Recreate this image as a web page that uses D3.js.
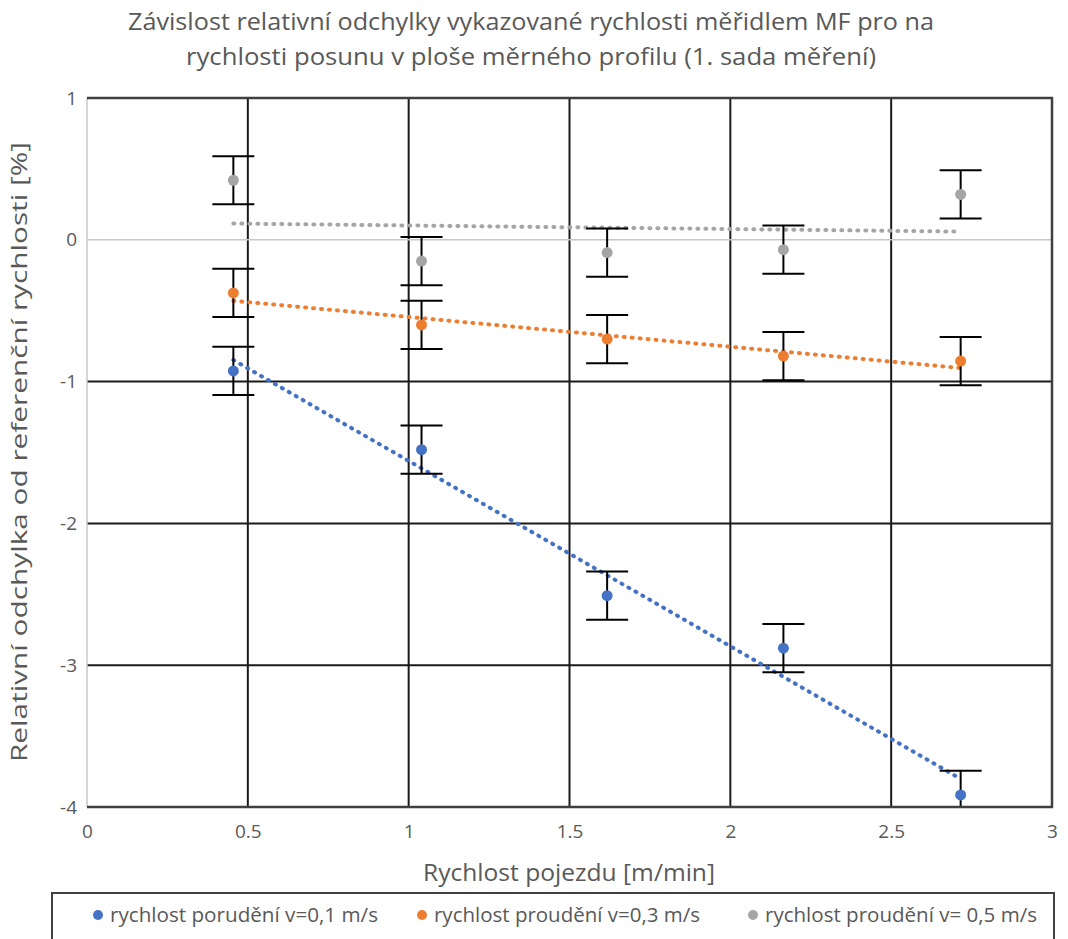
<!DOCTYPE html>
<html>
<head>
<meta charset="utf-8">
<script src="https://cdn.jsdelivr.net/npm/d3@7"></script>
<style>
  body { margin: 0; background: #fff; }
  text { font-family: "Open Sans", sans-serif; fill: #595959; }
</style>
</head>
<body>
<div id="chart"></div>
<script>
// data
var speeds = [0.455, 1.04, 1.617, 2.165, 2.716];
var dev01 = [-0.925, -1.48, -2.51, -2.88, -3.915];
var dev03 = [-0.375, -0.60, -0.70, -0.82, -0.855];
var dev05 = [0.42, -0.15, -0.09, -0.07, 0.32];
var errBar = 0.17;
var seriesNames = ["rychlost porudění v=0,1 m/s", "rychlost proudění v=0,3 m/s", "rychlost proudění v= 0,5 m/s"];
var seriesColors = ["#4472C4", "#ED7D31", "#A5A5A5"];
var xTicks = [0, 0.5, 1, 1.5, 2, 2.5, 3];
var yTicks = [1, 0, -1, -2, -3, -4];

var svgWidth = 1068;
var svgHeight = 939;

var margin = { top: 98, right: 16, bottom: 132, left: 87 };
var width = svgWidth - margin.left - margin.right;
var height = svgHeight - margin.top - margin.bottom;

var svg = d3.select("#chart")
  .append("svg")
  .attr("width", svgWidth)
  .attr("height", svgHeight);

var chartGroup = svg.append("g")
  .attr("transform", `translate(${margin.left}, ${margin.top})`);

var series = [dev01, dev03, dev05].map(function(vals, i) {
  return {
    name: seriesNames[i],
    color: seriesColors[i],
    points: vals.map((v, j) => ({ x: speeds[j], y: v }))
  };
});

var xScale = d3.scaleLinear().domain([0, 3]).range([0, width]);
var yScale = d3.scaleLinear().domain([-4, 1]).range([height, 0]);

// gridlines
chartGroup.append("g")
  .selectAll("line")
  .data(xTicks.filter(d => d > 0))
  .enter()
  .append("line")
  .attr("x1", d => xScale(d))
  .attr("x2", d => xScale(d))
  .attr("y1", 0)
  .attr("y2", height)
  .attr("stroke", "#1a1a1a")
  .attr("stroke-width", 2);

chartGroup.append("g")
  .selectAll("line")
  .data(yTicks)
  .enter()
  .append("line")
  .attr("x1", 0)
  .attr("x2", width)
  .attr("y1", d => yScale(d))
  .attr("y2", d => yScale(d))
  .attr("stroke", d => d === 0 ? "#c8c8c8" : "#1a1a1a")
  .attr("stroke-width", d => d === 0 ? 1.5 : 2);

// left edge (light)
chartGroup.append("line")
  .attr("x1", 0).attr("x2", 0)
  .attr("y1", 0).attr("y2", height)
  .attr("stroke", "#c8c8c8")
  .attr("stroke-width", 1.5);

// axes (labels only)
var leftAxis = d3.axisLeft(yScale).tickValues(yTicks).tickSize(0).tickPadding(10).tickFormat(d => String(d));
var bottomAxis = d3.axisBottom(xScale).tickValues(xTicks).tickSize(0).tickPadding(18).tickFormat(d => String(d));

var yAxisG = chartGroup.append("g").call(leftAxis);
yAxisG.select(".domain").remove();
yAxisG.selectAll("text").style("font-size", "19px").attr("fill", "#595959");

var xAxisG = chartGroup.append("g")
  .attr("transform", `translate(0, ${height})`)
  .call(bottomAxis);
xAxisG.select(".domain").remove();
xAxisG.selectAll("text").style("font-size", "19px").attr("fill", "#595959");

// clip
svg.append("clipPath").attr("id", "plotClip")
  .append("rect").attr("x", 0).attr("y", 0).attr("width", width).attr("height", height);

var plot = chartGroup.append("g").attr("clip-path", "url(#plotClip)");

// linear trend lines (least squares)
function fit(pts) {
  var mx = d3.mean(pts, p => p.x), my = d3.mean(pts, p => p.y);
  var sxy = d3.sum(pts, p => (p.x - mx) * (p.y - my));
  var sxx = d3.sum(pts, p => (p.x - mx) * (p.x - mx));
  var b = sxy / sxx;
  return function(x) { return my + b * (x - mx); };
}

series.slice().reverse().forEach(function(s) {
  var f = fit(s.points);
  var x0 = d3.min(s.points, p => p.x), x1 = d3.max(s.points, p => p.x);
  plot.append("line")
    .attr("x1", xScale(x0)).attr("y1", yScale(f(x0)))
    .attr("x2", xScale(x1)).attr("y2", yScale(f(x1)))
    .attr("stroke", s.color)
    .attr("stroke-width", 4)
    .attr("stroke-dasharray", "1,7")
    .attr("stroke-linecap", "round");
});

// error bars
series.forEach(function(s) {
  var g = plot.append("g");
  s.points.forEach(function(p) {
    var cx = xScale(p.x);
    g.append("line")
      .attr("x1", cx).attr("x2", cx)
      .attr("y1", yScale(p.y + errBar)).attr("y2", yScale(p.y - errBar))
      .attr("stroke", "#000").attr("stroke-width", 2);
    [p.y + errBar, p.y - errBar].forEach(function(v) {
      g.append("line")
        .attr("x1", cx - 21).attr("x2", cx + 21)
        .attr("y1", yScale(v)).attr("y2", yScale(v))
        .attr("stroke", "#000").attr("stroke-width", 2);
    });
  });
});

// markers
series.forEach(function(s) {
  plot.selectAll(null)
    .data(s.points)
    .enter()
    .append("circle")
    .attr("cx", d => xScale(d.x))
    .attr("cy", d => yScale(d.y))
    .attr("r", 5.5)
    .attr("fill", s.color);
});

// plot frame top/right/bottom
chartGroup.append("path")
  .attr("d", `M0,0H${width}V${height}H0`)
  .attr("fill", "none")
  .attr("stroke", "#404040")
  .attr("stroke-width", 2.5);

// title
svg.append("text")
  .attr("x", 531).attr("y", 30)
  .attr("text-anchor", "middle")
  .attr("textLength", 806)
  .attr("lengthAdjust", "spacingAndGlyphs")
  .style("font-size", "24px")
  .text("Závislost relativní odchylky vykazované rychlosti měřidlem MF pro na");
svg.append("text")
  .attr("x", 531).attr("y", 65)
  .attr("text-anchor", "middle")
  .attr("textLength", 690)
  .attr("lengthAdjust", "spacingAndGlyphs")
  .style("font-size", "24px")
  .text("rychlosti posunu v ploše měrného profilu (1. sada měření)");

// axis titles
svg.append("text")
  .attr("x", 569).attr("y", 881)
  .attr("text-anchor", "middle")
  .attr("textLength", 292)
  .attr("lengthAdjust", "spacingAndGlyphs")
  .style("font-size", "23px")
  .text("Rychlost pojezdu [m/min]");

svg.append("text")
  .attr("transform", `translate(27, 452) rotate(-90)`)
  .attr("text-anchor", "middle")
  .attr("textLength", 620)
  .attr("lengthAdjust", "spacingAndGlyphs")
  .style("font-size", "22px")
  .text("Relativní odchylka od referenční rychlosti [%]");

// legend
var legend = svg.append("g");
legend.append("rect")
  .attr("x", 52).attr("y", 893)
  .attr("width", 1002).attr("height", 60)
  .attr("fill", "#fff")
  .attr("stroke", "#404040")
  .attr("stroke-width", 2);

var legendX = [98, 422, 753];
var legendLen = [268, 266, 272];
series.forEach(function(s, i) {
  legend.append("circle")
    .attr("cx", legendX[i]).attr("cy", 915)
    .attr("r", 5)
    .attr("fill", s.color);
  legend.append("text")
    .attr("x", legendX[i] + 12).attr("y", 922)
    .attr("textLength", legendLen[i])
    .attr("lengthAdjust", "spacingAndGlyphs")
    .style("font-size", "20px")
    .text(s.name);
});
</script>
</body>
</html>
